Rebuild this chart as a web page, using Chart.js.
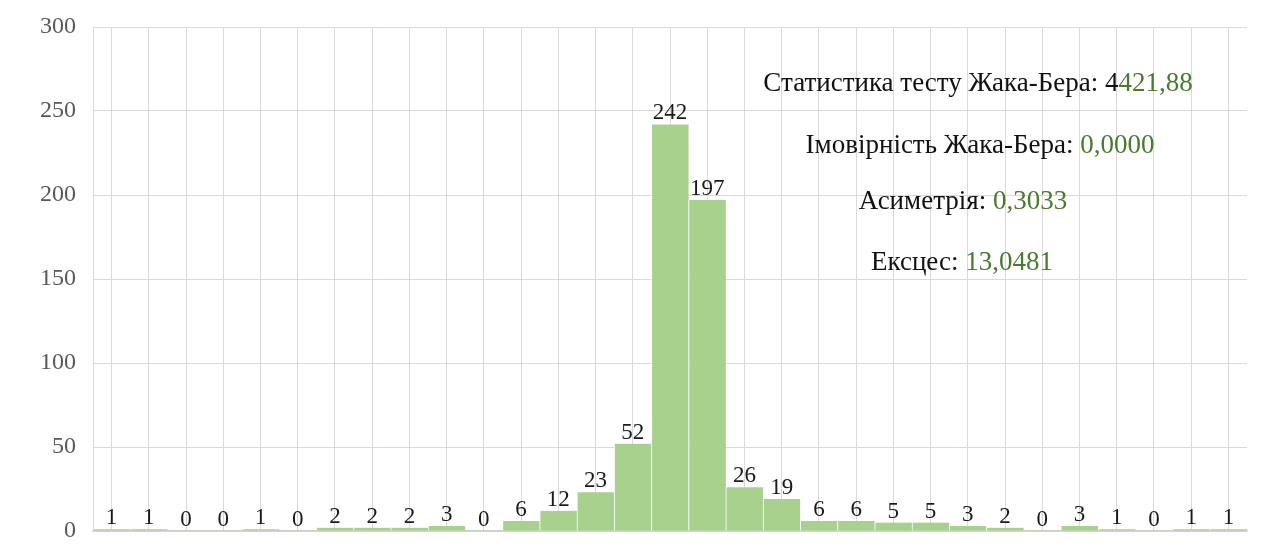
<!DOCTYPE html>
<html lang="uk">
<head>
<meta charset="utf-8">
<title>Гістограма залишків</title>
<script src="https://cdn.jsdelivr.net/npm/chart.js@4.4.1/dist/chart.umd.min.js"></script>
<style>
  html, body { margin: 0; padding: 0; background: #ffffff; }
  #wrap { width: 1270px; height: 551px; position: relative; }
</style>
</head>
<body>
<div id="wrap"><canvas id="histChart"></canvas></div>
<script>
// histogram bins (frequency per interval)
const binLabels = ['1', '2', '3', '4', '5', '6', '7', '8', '9', '10', '11', '12', '13', '14', '15', '16',
  '17', '18', '19', '20', '21', '22', '23', '24', '25', '26', '27', '28', '29', '30', '31'];
const frequencies = [1, 1, 0, 0, 1, 0, 2, 2, 2, 3, 0, 6, 12, 23, 52, 242, 197, 26, 19, 6, 6, 5, 5, 3, 2, 0, 3, 1, 0, 1, 1];
const yTicks = [0, 50, 100, 150, 200, 250, 300];

// test statistics: [caption, leading black part, green part]
const statsLines = [
  ['Статистика тесту Жака-Бера: ', '4', '421,88'],
  ['Імовірність Жака-Бера: ', '', '0,0000'],
  ['Асиметрія: ', '', '0,3033'],
  ['Ексцес: ', '', '13,0481'],
];

const SERIF = '"Liberation Serif", "Times New Roman", serif';
const BAR_GREEN = '#a9d18e';
const TEXT_GREEN = '#4a7a30';

// value labels above each bar
const barValuePlugin = {
  id: 'barValues',
  afterDatasetsDraw(chart) {
    const { ctx } = chart;
    const meta = chart.getDatasetMeta(0);
    ctx.save();
    ctx.font = '23px ' + SERIF;
    ctx.fillStyle = '#1a1a1a';
    ctx.textAlign = 'center';
    ctx.textBaseline = 'alphabetic';
    meta.data.forEach((bar, i) => {
      ctx.fillText(String(frequencies[i]), bar.x, bar.y - 5);
    });
    ctx.restore();
  },
};

// statistics block on the right side of the plot
const statsPlugin = {
  id: 'statsBlock',
  afterDraw(chart) {
    const { ctx, chartArea } = chart;
    const rowCenter = [885, 887, 870, 869];
    const rowY = [91, 153, 209, 270];
    ctx.save();
    ctx.font = '27px ' + SERIF;
    ctx.textBaseline = 'alphabetic';
    ctx.textAlign = 'left';
    statsLines.forEach((line, i) => {
      const [caption, dark, green] = line;
      const total = ctx.measureText(caption + dark + green).width;
      let x = chartArea.left + rowCenter[i] - total / 2;
      ctx.fillStyle = '#111111';
      ctx.fillText(caption + dark, x, rowY[i]);
      x += ctx.measureText(caption + dark).width;
      ctx.fillStyle = TEXT_GREEN;
      ctx.fillText(green, x, rowY[i]);
    });
    ctx.restore();
  },
};

new Chart(document.getElementById('histChart'), {
  type: 'bar',
  data: {
    labels: binLabels,
    datasets: [
      {
        data: frequencies,
        backgroundColor: BAR_GREEN,
        borderColor: 'rgba(255,255,255,0.8)',
        borderWidth: { left: 1, right: 0, top: 0, bottom: 0 },
        borderSkipped: false,
        categoryPercentage: 1,
        barPercentage: 1,
      },
    ],
  },
  options: {
    responsive: true,
    maintainAspectRatio: false,
    animation: false,
    layout: { padding: { top: 27, right: 23, bottom: 20, left: 0 } },
    plugins: {
      legend: { display: false },
      tooltip: { enabled: false },
    },
    scales: {
      x: {
        ticks: { display: false },
        grid: { offset: false, color: '#d9d9d9', lineWidth: 1, drawTicks: false },
        border: { display: true, color: '#c9d3c0', width: 1.5 },
        afterFit: (scale) => {
          scale.height = 0;
          scale.paddingLeft = 0;
          scale.paddingRight = 0;
        },
      },
      y: {
        min: 0,
        max: 300,
        afterBuildTicks: (scale) => { scale.ticks = yTicks.map((v) => ({ value: v })); },
        ticks: {
          color: '#595959',
          font: { family: SERIF, size: 24 },
          padding: 17,
        },
        grid: { color: '#d9d9d9', lineWidth: 1, drawTicks: false },
        border: { display: true, color: '#d9d9d9' },
        afterFit: (scale) => {
          scale.width = 93;
          scale.paddingTop = 0;
          scale.paddingBottom = 0;
        },
      },
    },
  },
  plugins: [barValuePlugin, statsPlugin],
});
</script>
</body>
</html>
